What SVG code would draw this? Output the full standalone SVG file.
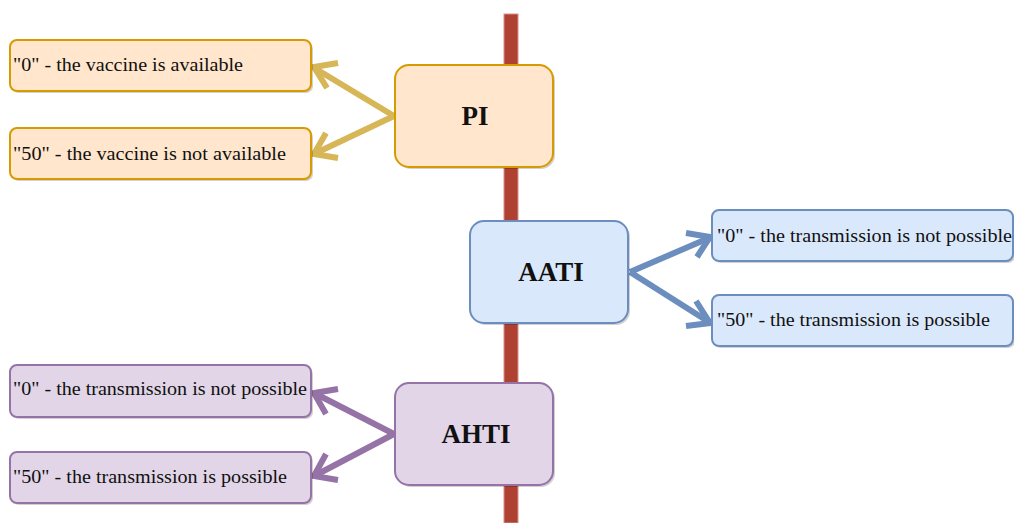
<svg xmlns="http://www.w3.org/2000/svg" width="1014" height="523" viewBox="0 0 1014 523">
<style>
.box{stroke-width:2}
.o{fill:#ffe6cc;stroke:#d79b00}
.b{fill:#dae8fc;stroke:#6c8ebf}
.p{fill:#e1d5e7;stroke:#9673a6}
.sh{fill:#000;opacity:0.18}
.lbl{font-family:"Liberation Serif","Times New Roman",serif;font-size:19px;fill:#111}
.ttl{font-family:"Liberation Serif","Times New Roman",serif;font-size:27px;font-weight:bold;fill:#111;text-anchor:middle}
.c{fill:none;stroke-width:6;stroke-linecap:butt}
</style>
<g id="axis">
<rect x="504" y="14" width="14" height="509" fill="#ae4132" stroke="#d9908a" stroke-width="1"/>
</g>
<g id="connectors">
<g stroke="#d6b656" class="c">
<line x1="394" y1="116" x2="316" y2="69"/>
<polyline points="338,63 314,67 327,88" fill="none"/>
<line x1="394" y1="116" x2="316" y2="153"/>
<polyline points="326,133 314,154 338,158" fill="none"/>
</g>
<g stroke="#6c8ebf" class="c">
<line x1="630" y1="272" x2="709" y2="238"/>
<polyline points="686,233 710,237 697,257" fill="none"/>
<line x1="630" y1="272" x2="709" y2="322"/>
<polyline points="696,301 710,323 686,326" fill="none"/>
</g>
<g stroke="#9673a6" class="c">
<line x1="394" y1="434" x2="316" y2="394"/>
<polyline points="338,389 314,393 326,414" fill="none"/>
<line x1="394" y1="434" x2="316" y2="475"/>
<polyline points="326,454 314,476 338,480" fill="none"/>
</g>
</g>
<g id="pi">
<rect class="sh" x="397" y="67" width="158" height="102" rx="14"/>
<rect class="box o" x="395" y="65" width="158" height="102" rx="14"/>
<text class="ttl" x="475" y="125">PI</text>
</g>
<g id="pi0">
<rect class="sh" x="12" y="42" width="301" height="51" rx="7"/>
<rect class="box o" x="10" y="40" width="301" height="51" rx="7"/>
<text class="lbl" x="13" y="71" textLength="230" lengthAdjust="spacingAndGlyphs">"0" - the vaccine is available</text>
</g>
<g id="pi50">
<rect class="sh" x="12" y="130" width="301" height="51" rx="7"/>
<rect class="box o" x="10" y="128" width="301" height="51" rx="7"/>
<text class="lbl" x="13" y="160" textLength="273" lengthAdjust="spacingAndGlyphs">"50" - the vaccine is not available</text>
</g>
<g id="aati">
<rect class="sh" x="472" y="223" width="158" height="102" rx="14"/>
<rect class="box b" x="470" y="221" width="158" height="102" rx="14"/>
<text class="ttl" x="551" y="281">AATI</text>
</g>
<g id="aati0">
<rect class="sh" x="714" y="212" width="301" height="51" rx="7"/>
<rect class="box b" x="712" y="210" width="301" height="51" rx="7"/>
<text class="lbl" x="717" y="242" textLength="295" lengthAdjust="spacingAndGlyphs">"0" - the transmission is not possible</text>
</g>
<g id="aati50">
<rect class="sh" x="714" y="297" width="301" height="51" rx="7"/>
<rect class="box b" x="712" y="295" width="301" height="51" rx="7"/>
<text class="lbl" x="717" y="326" textLength="273" lengthAdjust="spacingAndGlyphs">"50" - the transmission is possible</text>
</g>
<g id="ahti">
<rect class="sh" x="397" y="385" width="158" height="102" rx="14"/>
<rect class="box p" x="395" y="383" width="158" height="102" rx="14"/>
<text class="ttl" x="476" y="443">AHTI</text>
</g>
<g id="ahti0">
<rect class="sh" x="12" y="367" width="301" height="52" rx="7"/>
<rect class="box p" x="10" y="365" width="301" height="52" rx="7"/>
<text class="lbl" x="13" y="395" textLength="294" lengthAdjust="spacingAndGlyphs">"0" - the transmission is not possible</text>
</g>
<g id="ahti50">
<rect class="sh" x="12" y="454" width="301" height="51" rx="7"/>
<rect class="box p" x="10" y="452" width="301" height="51" rx="7"/>
<text class="lbl" x="13" y="483" textLength="274" lengthAdjust="spacingAndGlyphs">"50" - the transmission is possible</text>
</g>
</svg>
